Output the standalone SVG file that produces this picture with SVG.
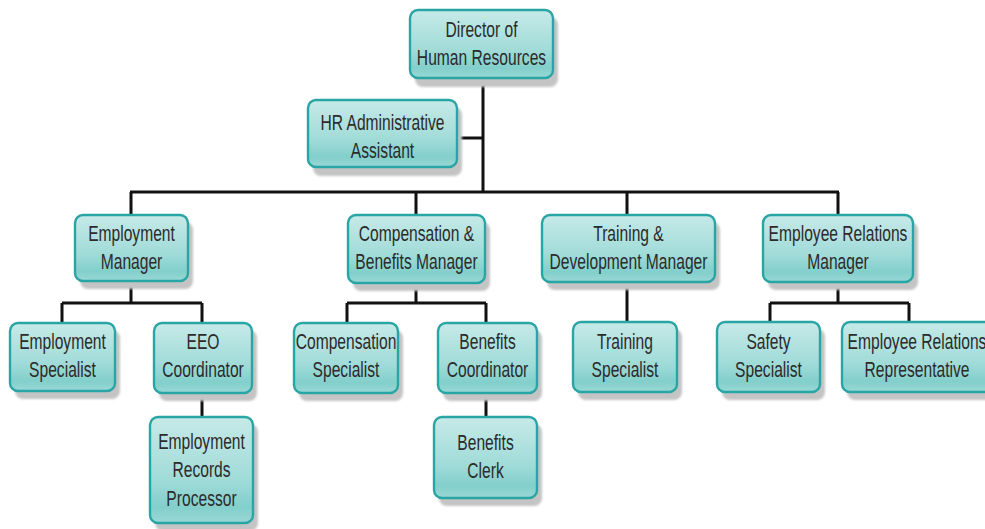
<svg xmlns="http://www.w3.org/2000/svg" width="985" height="529" viewBox="0 0 985 529">
<defs>
<linearGradient id="g" x1="0" y1="0" x2="0" y2="1">
<stop offset="0" stop-color="#c6eae8"/>
<stop offset="0.6" stop-color="#a0dbd8"/>
<stop offset="0.85" stop-color="#82cfcb"/>
<stop offset="1" stop-color="#9ad8d5"/>
</linearGradient>
<filter id="sh" x="-10%" y="-10%" width="130%" height="130%"><feGaussianBlur stdDeviation="1.2"/></filter>
</defs>
<style>
.box{fill:url(#g);stroke:#28a5a4;stroke-width:2.4}
.shadow{fill:#c4c4c4;filter:url(#sh)}
text{font-family:"Liberation Sans",Arial,sans-serif;font-size:22px;fill:#2b2b2b;text-anchor:middle}
.c{stroke:#111;stroke-width:3;fill:none}
</style>
<rect width="985" height="529" fill="#ffffff"/>
<g id="connectors">
<path class="c" d="M483 78V192M457 138H483M130 192H839M131 192V215M416 192V215M627 192V215M838 192V215"/>
<path class="c" d="M131 281V303M62 303H202M62 303V323M202 303V323M202 393V417"/>
<path class="c" d="M416 283V303M347 303H486M347 303V323M486 303V323M486 393V417"/>
<path class="c" d="M627 282V322"/>
<path class="c" d="M838 282V303M770 303H909M770 303V322M909 303V322"/>
</g>
<g id="director"><rect class="shadow" x="415" y="17" width="143" height="70" rx="8"/><rect class="box" x="410" y="10" width="143" height="68" rx="8"/><text transform="matrix(0.71 0 0 1 481.5 37)">Director of</text><text transform="matrix(0.71 0 0 1 481.5 65)">Human Resources</text></g>
<g id="hradmin"><rect class="shadow" x="313" y="107" width="149" height="69" rx="8"/><rect class="box" x="308" y="100" width="149" height="67" rx="8"/><text transform="matrix(0.71 0 0 1 382.5 130)">HR Administrative</text><text transform="matrix(0.71 0 0 1 382.5 158)">Assistant</text></g>
<g id="empmgr"><rect class="shadow" x="80" y="222" width="113" height="67" rx="8"/><rect class="box" x="75" y="215" width="113" height="66" rx="8"/><text transform="matrix(0.71 0 0 1 131.5 241)">Employment</text><text transform="matrix(0.71 0 0 1 131.5 269)">Manager</text></g>
<g id="compmgr"><rect class="shadow" x="353" y="222" width="137" height="69" rx="8"/><rect class="box" x="348" y="215" width="137" height="68" rx="8"/><text transform="matrix(0.71 0 0 1 416.5 241)">Compensation &amp;</text><text transform="matrix(0.71 0 0 1 416.5 269)">Benefits Manager</text></g>
<g id="trainmgr"><rect class="shadow" x="547" y="222" width="173" height="68" rx="8"/><rect class="box" x="542" y="215" width="173" height="67" rx="8"/><text transform="matrix(0.71 0 0 1 628.5 241)">Training &amp;</text><text transform="matrix(0.71 0 0 1 628.5 269)">Development Manager</text></g>
<g id="ermgr"><rect class="shadow" x="768" y="222" width="150" height="68" rx="8"/><rect class="box" x="763" y="215" width="150" height="67" rx="8"/><text transform="matrix(0.71 0 0 1 838 241)">Employee Relations</text><text transform="matrix(0.71 0 0 1 838 269)">Manager</text></g>
<g id="empspec"><rect class="shadow" x="15" y="330" width="105" height="69" rx="8"/><rect class="box" x="10" y="323" width="105" height="68" rx="8"/><text transform="matrix(0.71 0 0 1 62.5 349)">Employment</text><text transform="matrix(0.71 0 0 1 62.5 377)">Specialist</text></g>
<g id="eeo"><rect class="shadow" x="159" y="330" width="98" height="71" rx="8"/><rect class="box" x="154" y="323" width="98" height="70" rx="8"/><text transform="matrix(0.71 0 0 1 203 349)">EEO</text><text transform="matrix(0.71 0 0 1 203 377)">Coordinator</text></g>
<g id="erp"><rect class="shadow" x="155" y="424" width="103" height="107" rx="8"/><rect class="box" x="150" y="417" width="103" height="106" rx="8"/><text transform="matrix(0.71 0 0 1 201.5 449)">Employment</text><text transform="matrix(0.71 0 0 1 201.5 477)">Records</text><text transform="matrix(0.71 0 0 1 201.5 506)">Processor</text></g>
<g id="compspec"><rect class="shadow" x="299" y="330" width="104" height="71" rx="8"/><rect class="box" x="294" y="323" width="104" height="70" rx="8"/><text transform="matrix(0.71 0 0 1 346 349)">Compensation</text><text transform="matrix(0.71 0 0 1 346 377)">Specialist</text></g>
<g id="bencoord"><rect class="shadow" x="443" y="330" width="99" height="71" rx="8"/><rect class="box" x="438" y="323" width="99" height="70" rx="8"/><text transform="matrix(0.71 0 0 1 487.5 349)">Benefits</text><text transform="matrix(0.71 0 0 1 487.5 377)">Coordinator</text></g>
<g id="benclerk"><rect class="shadow" x="439" y="424" width="103" height="82" rx="8"/><rect class="box" x="434" y="417" width="103" height="81" rx="8"/><text transform="matrix(0.71 0 0 1 485.5 450)">Benefits</text><text transform="matrix(0.71 0 0 1 485.5 478)">Clerk</text></g>
<g id="trainspec"><rect class="shadow" x="578" y="329" width="104" height="71" rx="8"/><rect class="box" x="573" y="322" width="104" height="70" rx="8"/><text transform="matrix(0.71 0 0 1 625 349)">Training</text><text transform="matrix(0.71 0 0 1 625 377)">Specialist</text></g>
<g id="safety"><rect class="shadow" x="722" y="329" width="103" height="71" rx="8"/><rect class="box" x="717" y="322" width="103" height="70" rx="8"/><text transform="matrix(0.71 0 0 1 768.5 349)">Safety</text><text transform="matrix(0.71 0 0 1 768.5 377)">Specialist</text></g>
<g id="errep"><rect class="shadow" x="847" y="329" width="150" height="71" rx="8"/><rect class="box" x="842" y="322" width="150" height="70" rx="8"/><text transform="matrix(0.71 0 0 1 917 349)">Employee Relations</text><text transform="matrix(0.71 0 0 1 917 377)">Representative</text></g>
</svg>
